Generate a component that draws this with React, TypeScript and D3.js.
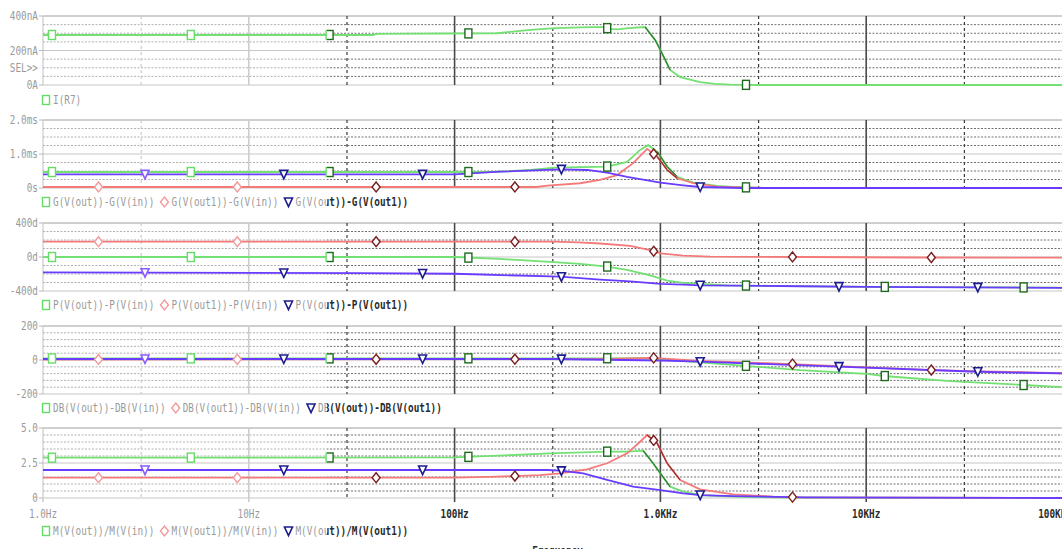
import React, { useEffect, useRef } from "react";
import * as d3 from "d3";

const W = 1062;
const H = 549;

// ---------------- X axis ----------------
const xDomain = [1, 100000];
const xTickFreqs = [1, 10, 100, 1000, 10000, 100000];
const xTickLabels = ["1.0Hz", "10Hz", "100Hz", "1.0KHz", "10KHz", "100KHz"];
const xMidFreqs = [3, 30, 300, 3000, 30000];
const xTitle = "Frequency";

// ---------------- Panel 1 : I(R7) (nA) ----------------
const p1Ticks = [0, 200, 400];
const p1TickLabels = ["0A", "200nA", "400nA"];
const irFreq = [1, 40, 42, 160, 233, 308, 456, 540, 560, 620, 700, 843, 943, 1000, 1115, 1247, 1560, 1845, 2183, 3000, 100000];
const irVal = [290, 290, 296, 300, 319, 330, 336, 336, 325, 322, 330, 336, 261, 203, 87, 46, 17, 6, 2, 0, 0];

// ---------------- Panel 2 : group delay (ms) ----------------
const p2Ticks = [0, 1, 2];
const p2TickLabels = ["0s", "1.0ms", "2.0ms"];
const gOutFreq = [1, 150, 233, 308, 551, 689, 797, 872, 965, 1079, 1206, 1443, 1888, 2258, 3300, 100000];
const gOutVal = [0.47, 0.47, 0.53, 0.6, 0.63, 0.77, 1.12, 1.26, 1.07, 0.63, 0.33, 0.16, 0.06, 0.03, 0, 0];
const gOut1Freq = [1, 250, 282, 407, 509, 616, 737, 862, 965, 1079, 1206, 1443, 1888, 3300, 100000];
const gOut1Val = [0.03, 0.03, 0.07, 0.14, 0.24, 0.38, 0.73, 1.15, 0.92, 0.53, 0.29, 0.14, 0.04, 0, 0];
const gDiffFreq = [1, 100, 166, 326, 441, 551, 689, 1000, 1291, 1560, 2500, 100000];
const gDiffVal = [0.4, 0.4, 0.48, 0.55, 0.53, 0.45, 0.33, 0.16, 0.08, 0.03, 0, 0];

// ---------------- Panel 3 : phase (deg) ----------------
const p3Ticks = [-400, 0, 400];
const p3TickLabels = ["-400d", "0d", "400d"];
const pOutFreq = [1, 100, 166, 291, 407, 551, 689, 891, 1079, 1291, 2110, 3533, 10100, 100000];
const pOutVal = [0, 0, -23, -58, -81, -112, -151, -217, -278, -305, -333, -340, -351, -360];
const pOut1Freq = [1, 300, 400, 509, 713, 891, 1000, 1291, 1745, 5000, 16900, 100000];
const pOut1Val = [180, 180, 172, 159, 131, 81, 43, 15, 4, 0, -6, -8];
const pDiffFreq = [1, 35, 100, 326, 509, 713, 1000, 1291, 1560, 4776, 10100, 100000];
const pDiffVal = [-182, -190, -197, -232, -266, -286, -316, -324, -333, -344, -351, -363];

// ---------------- Panel 4 : dB ----------------
const p4Ticks = [-200, 0, 200];
const p4TickLabels = ["-200", "0", "200"];
const dbOutFreq = [1, 500, 850, 1000, 1300, 1560, 2583, 4776, 10100, 12200, 25600, 58000, 100000];
const dbOutVal = [9, 10, 11, 5, -7, -14, -34, -60, -82, -94, -124, -147, -163];
const dbOut1Freq = [1, 500, 900, 1000, 1560, 4368, 20700, 90000, 100000];
const dbOut1Val = [3, 5, 13, 10, -5, -24, -59, -78, -80];
const dbDiffFreq = [1, 300, 1000, 1560, 7308, 34600, 100000];
const dbDiffVal = [6, 6, -3, -10, -39, -69, -80];

// ---------------- Panel 5 : magnitude ratio ----------------
const p5Ticks = [0, 2.5, 5];
const p5TickLabels = ["0", "2.5", "5.0"];
const mOutFreq = [1, 100, 161, 291, 551, 689, 825, 922, 1000, 1115, 1291, 1560, 2258, 4000, 100000];
const mOutVal = [2.88, 2.9, 3.02, 3.19, 3.31, 3.31, 3.38, 2.48, 1.76, 0.81, 0.45, 0.21, 0.1, 0.03, 0];
const mOut1Freq = [1, 100, 161, 260, 326, 441, 551, 689, 797, 862, 965, 1079, 1247, 1560, 2258, 3533, 4776, 100000];
const mOut1Val = [1.45, 1.45, 1.52, 1.64, 1.76, 2.05, 2.48, 3.19, 4.02, 4.5, 3.9, 2.48, 1.29, 0.62, 0.26, 0.1, 0.05, 0];
const mDiffFreq = [1, 280, 326, 422, 551, 737, 1000, 1291, 1560, 2258, 5000, 100000];
const mDiffVal = [2.0, 2.0, 1.95, 1.76, 1.29, 0.81, 0.57, 0.33, 0.21, 0.14, 0.04, 0];

// ---------------- legend names ----------------
const legend1 = ["I(R7)"];
const legend2 = ["G(V(out))-G(V(in))", "G(V(out1))-G(V(in))", "G(V(out))-G(V(out1))"];
const legend3 = ["P(V(out))-P(V(in))", "P(V(out1))-P(V(in))", "P(V(out))-P(V(out1))"];
const legend4 = ["DB(V(out))-DB(V(in))", "DB(V(out1))-DB(V(in))", "DB(V(out))-DB(V(out1))"];
const legend5 = ["M(V(out))/M(V(in))", "M(V(out1))/M(V(in))", "M(V(out))/M(V(out1))"];

// ---------------- styling ----------------
const FONT = "'DejaVu Sans Mono', 'Liberation Mono', monospace";
const FS = 12;
const SX = 0.78;
const CW = 0.602 * FS * SX;
const SPLIT = 327;
const TRI_SPLIT = 200;

const KIND = {
  square: { line: "#72e072", steep: "#2e7d2e", mkL: "#66dd66", mkD: "#1f6a1f" },
  diamond: { line: "#f47a7a", steep: "#9e2e2e", mkL: "#f39a9a", mkD: "#7a1f1f" },
  triangle: { line: "#6a3cff", steep: null, mkL: "#8a5cff", mkD: "#1c1c8c" },
};
const MK_START = { square: 52, diamond: 98.5, triangle: 145 };
const MK_STEP = 138.8;

type Series = { freq: number[]; val: number[]; kind: "square" | "diamond" | "triangle"; count: number };
type Panel = {
  top: number; bottom: number; ticks: number[]; labels: string[]; sub: number;
  series: Series[]; legend: string[]; legendY: number; sel?: boolean;
};

const panels: Panel[] = [
  { top: 16, bottom: 85, ticks: p1Ticks, labels: p1TickLabels, sub: 4, sel: true,
    series: [{ freq: irFreq, val: irVal, kind: "square", count: 6 }], legend: legend1, legendY: 104 },
  { top: 120, bottom: 188, ticks: p2Ticks, labels: p2TickLabels, sub: 4,
    series: [
      { freq: gOutFreq, val: gOutVal, kind: "square", count: 6 },
      { freq: gOut1Freq, val: gOut1Val, kind: "diamond", count: 5 },
      { freq: gDiffFreq, val: gDiffVal, kind: "triangle", count: 5 },
    ], legend: legend2, legendY: 206 },
  { top: 223, bottom: 291, ticks: p3Ticks, labels: p3TickLabels, sub: 4,
    series: [
      { freq: pOutFreq, val: pOutVal, kind: "square", count: 8 },
      { freq: pOut1Freq, val: pOut1Val, kind: "diamond", count: 7 },
      { freq: pDiffFreq, val: pDiffVal, kind: "triangle", count: 7 },
    ], legend: legend3, legendY: 309 },
  { top: 326, bottom: 394, ticks: p4Ticks, labels: p4TickLabels, sub: 5,
    series: [
      { freq: dbOutFreq, val: dbOutVal, kind: "square", count: 8 },
      { freq: dbOut1Freq, val: dbOut1Val, kind: "diamond", count: 7 },
      { freq: dbDiffFreq, val: dbDiffVal, kind: "triangle", count: 7 },
    ], legend: legend4, legendY: 412 },
  { top: 428, bottom: 498, ticks: p5Ticks, labels: p5TickLabels, sub: 5,
    series: [
      { freq: mOutFreq, val: mOutVal, kind: "square", count: 5 },
      { freq: mOut1Freq, val: mOut1Val, kind: "diamond", count: 6 },
      { freq: mDiffFreq, val: mDiffVal, kind: "triangle", count: 5 },
    ], legend: legend5, legendY: 535 },
];

const LEGEND_KINDS: ("square" | "diamond" | "triangle")[] = ["square", "diamond", "triangle"];

function txt(g: any, x: number, y: number, s: string, anchor: string, color: string, bold: boolean) {
  g.append("text")
    .attr("transform", `translate(${x},${y}) scale(${SX},1)`)
    .attr("text-anchor", anchor)
    .attr("font-family", FONT)
    .attr("font-size", FS)
    .attr("font-weight", bold ? "bold" : "normal")
    .attr("fill", color)
    .text(s);
}

function marker(g: any, kind: string, cx: number, cy: number, color: string) {
  if (kind === "square") {
    g.append("rect").attr("x", cx - 3.5).attr("y", cy - 4.5).attr("width", 7).attr("height", 9)
      .attr("fill", "#fff").attr("stroke", color).attr("stroke-width", 1.4);
  } else if (kind === "diamond") {
    g.append("path").attr("d", `M${cx},${cy - 5}L${cx + 4},${cy}L${cx},${cy + 5}L${cx - 4},${cy}Z`)
      .attr("fill", "#fff").attr("stroke", color).attr("stroke-width", 1.4);
  } else {
    g.append("path").attr("d", `M${cx - 4},${cy - 4}L${cx + 4},${cy - 4}L${cx},${cy + 4.5}Z`)
      .attr("fill", "#fff").attr("stroke", color).attr("stroke-width", 1.6);
  }
}

function interp(freq: number[], val: number[], f: number) {
  const lf = Math.log10(f);
  for (let i = 0; i < freq.length - 1; i++) {
    const a = Math.log10(freq[i]), b = Math.log10(freq[i + 1]);
    if (lf >= a && lf <= b) {
      const t = b === a ? 0 : (lf - a) / (b - a);
      return val[i] + t * (val[i + 1] - val[i]);
    }
  }
  return val[val.length - 1];
}

export default function App() {
  const ref = useRef<SVGSVGElement>(null);

  useEffect(() => {
    const svg = d3.select(ref.current);
    svg.selectAll("*").remove();
    const x = d3.scaleLog().domain(xDomain).range([43, 1072]);
    const X0 = 43, X1 = 1072;

    const defs = svg.append("defs");
    const clip = (id: string, x0: number, x1: number, y0 = 0, y1 = H) =>
      defs.append("clipPath").attr("id", id).append("rect")
        .attr("x", x0).attr("y", y0).attr("width", x1 - x0).attr("height", y1 - y0);
    clip("cL", 0, SPLIT);
    clip("cD", SPLIT, W);
    clip("tL", 0, TRI_SPLIT);
    clip("tD", TRI_SPLIT, W);

    svg.append("rect").attr("width", W).attr("height", H).attr("fill", "#fff");

    const ys = panels.map((p) =>
      d3.scaleLinear().domain([p.ticks[0], p.ticks[p.ticks.length - 1]]).range([p.bottom, p.top])
    );

    // ---------- static layers (grid, text) ----------
    const drawStatic = (dark: boolean) => {
      const g = svg.append("g").attr("clip-path", dark ? "url(#cD)" : "url(#cL)");
      const minorC = dark ? "#707070" : "#b0b0b0";
      const decC = dark ? "#4a4a4a" : "#cdcdcd";
      const midC = dark ? "#3a3a3a" : "#cdcdcd";
      const textC = dark ? "#2a2a2a" : "#9a9a9a";
      const majorC = "#c6c6c6";

      panels.forEach((p, pi) => {
        const y = ys[pi];
        for (let i = 0; i < p.ticks.length - 1; i++) {
          const t0 = p.ticks[i], t1 = p.ticks[i + 1];
          for (let k = 1; k < p.sub; k++) {
            const v = t0 + (k * (t1 - t0)) / p.sub;
            g.append("line").attr("x1", X0).attr("x2", X1).attr("y1", y(v)).attr("y2", y(v))
              .attr("stroke", minorC).attr("stroke-width", 1).attr("stroke-dasharray", "2,1.5");
          }
        }
        p.ticks.forEach((t, ti) => {
          const top = ti === p.ticks.length - 1;
          g.append("line").attr("x1", X0).attr("x2", X1).attr("y1", y(t)).attr("y2", y(t))
            .attr("stroke", top ? "#cfcfcf" : majorC).attr("stroke-width", top ? 2 : 1);
          g.append("line").attr("x1", X0 - 4).attr("x2", X0).attr("y1", y(t)).attr("y2", y(t))
            .attr("stroke", "#b8b8b8").attr("stroke-width", 1);
          txt(g, 38, y(t) + 4, p.labels[ti], "end", "#9a9a9a", false);
        });
        xTickFreqs.slice(1).forEach((f) => {
          g.append("line").attr("x1", x(f)).attr("x2", x(f)).attr("y1", p.top).attr("y2", p.bottom)
            .attr("stroke", decC).attr("stroke-width", 1.6);
        });
        xMidFreqs.forEach((f) => {
          g.append("line").attr("x1", x(f)).attr("x2", x(f)).attr("y1", p.top).attr("y2", p.bottom)
            .attr("stroke", midC).attr("stroke-width", 1.2).attr("stroke-dasharray", "3,3");
        });
        g.append("line").attr("x1", X0).attr("x2", X0).attr("y1", p.top).attr("y2", p.bottom)
          .attr("stroke", "#c0c0c0").attr("stroke-width", 1);
        if (p.sel) txt(g, 38, y(p.ticks[0] + (p.ticks[1] - p.ticks[0]) / 2) + 4, "SEL>>", "end", "#9a9a9a", false);
        let mx = 46;
        p.legend.forEach((name) => {
          const tx = mx + 7;
          txt(g, tx, p.legendY, name, "start", textC, dark);
          mx = tx + name.length * CW + 10;
        });
      });

      const last = panels[panels.length - 1];
      xTickFreqs.forEach((f, i) => {
        g.append("line").attr("x1", x(f)).attr("x2", x(f)).attr("y1", last.bottom).attr("y2", last.bottom + 4)
          .attr("stroke", decC).attr("stroke-width", 1.6);
        const w = xTickLabels[i].length * CW;
        const cx = Math.min(x(f), X1 - w / 2);
        txt(g, cx, 518, xTickLabels[i], "middle", textC, dark);
      });
      txt(g, (X0 + X1) / 2, 555, xTitle, "middle", textC, dark);
    };
    drawStatic(false);
    drawStatic(true);

    // ---------- lines ----------
    panels.forEach((p, pi) => {
      const y = ys[pi];
      const cid = `pc${pi}`;
      clip(cid, X0, X1, p.top - 2, p.bottom + 2);
      const g = svg.append("g").attr("clip-path", `url(#${cid})`);
      p.series.forEach((s) => {
        const pts = s.freq.map((f, i) => [x(f), y(s.val[i])] as [number, number]);
        const line = d3.line();
        const st = KIND[s.kind];
        g.append("path").attr("d", line(pts)).attr("fill", "none")
          .attr("stroke", st.line).attr("stroke-width", 1.8);
        if (st.steep) {
          for (let i = 0; i < pts.length - 1; i++) {
            const dx = pts[i + 1][0] - pts[i][0];
            const dy = pts[i + 1][1] - pts[i][1];
            if (dx > 0 && dy / dx > 0.8) {
              g.append("path").attr("d", line([pts[i], pts[i + 1]])).attr("fill", "none")
                .attr("stroke", st.steep).attr("stroke-width", 1.3);
            }
          }
        }
      });
    });

    // ---------- markers ----------
    const drawMarkers = (dark: boolean, triangles: boolean) => {
      const cp = triangles ? (dark ? "url(#tD)" : "url(#tL)") : dark ? "url(#cD)" : "url(#cL)";
      const g = svg.append("g").attr("clip-path", cp);
      panels.forEach((p, pi) => {
        const y = ys[pi];
        p.series.forEach((s) => {
          if ((s.kind === "triangle") !== triangles) return;
          const c = dark ? KIND[s.kind].mkD : KIND[s.kind].mkL;
          for (let k = 0; k < s.count; k++) {
            const px = MK_START[s.kind] + k * MK_STEP;
            const v = interp(s.freq, s.val, x.invert(px));
            marker(g, s.kind, px, y(v), c);
          }
        });
        let mx = 46;
        p.legend.forEach((name, i) => {
          const kind = LEGEND_KINDS[i];
          if ((kind === "triangle") === triangles) {
            marker(g, kind, mx, p.legendY - 4, dark ? KIND[kind].mkD : KIND[kind].mkL);
          }
          mx = mx + 7 + name.length * CW + 10;
        });
      });
    };
    drawMarkers(false, false);
    drawMarkers(true, false);
    drawMarkers(false, true);
    drawMarkers(true, true);
  }, []);

  return (
    <svg
      ref={ref}
      width={W}
      height={H}
      style={{ position: "fixed", left: 0, top: 0, display: "block", background: "#fff" }}
    />
  );
}
